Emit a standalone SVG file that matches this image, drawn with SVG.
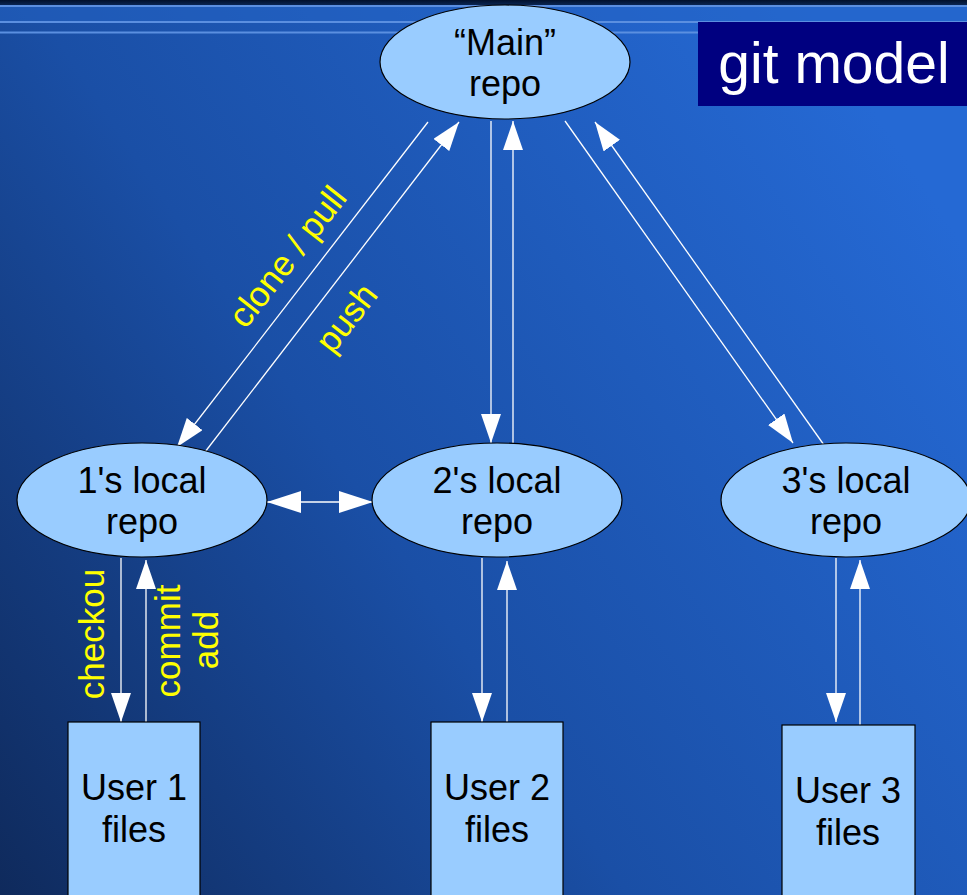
<svg xmlns="http://www.w3.org/2000/svg" width="967" height="895" viewBox="0 0 967 895">
<defs>
<linearGradient id="bg" x1="0" y1="895" x2="967" y2="250" gradientUnits="userSpaceOnUse">
<stop offset="0" stop-color="#0f2a5c"/>
<stop offset="0.45" stop-color="#1a4fa6"/>
<stop offset="1" stop-color="#2569d4"/>
</linearGradient>
<linearGradient id="topbar" x1="0" y1="0" x2="0" y2="1">
<stop offset="0" stop-color="#01102c"/>
<stop offset="1" stop-color="#0a2552"/>
</linearGradient>
<marker id="ah" viewBox="0 0 29 20" refX="29" refY="10" markerWidth="29" markerHeight="20" markerUnits="userSpaceOnUse" orient="auto-start-reverse">
<path d="M0,0 L29,10 L0,20 z" fill="#ffffff"/>
</marker>
<marker id="ahb" viewBox="0 0 34 22" refX="34" refY="11" markerWidth="34" markerHeight="22" markerUnits="userSpaceOnUse" orient="auto-start-reverse">
<path d="M0,0 L34,11 L0,22 z" fill="#ffffff"/>
</marker>
</defs>
<style>
.node{fill:#99ccff;stroke:#000000;stroke-width:1.2}
.nt{font-family:"Liberation Sans",Arial,sans-serif;font-size:36px;fill:#000000;text-anchor:middle}
.lab{font-family:"Liberation Sans",Arial,sans-serif;font-size:35px;fill:#ffff00;text-anchor:middle}
.c{stroke:#ffffff;stroke-width:1.3;fill:none}
.hl{stroke:#5b8fe0;stroke-width:2.2}
</style>
<rect x="0" y="0" width="967" height="895" fill="url(#bg)"/>
<rect x="0" y="0" width="967" height="5" fill="url(#topbar)"/>
<rect x="0" y="7" width="967" height="14" fill="#2463c6" opacity="0.5"/>
<line class="hl" x1="0" y1="6" x2="967" y2="6"/>
<line class="hl" x1="0" y1="22" x2="967" y2="22"/>
<line class="hl" x1="0" y1="32.5" x2="967" y2="32.5"/>

<g id="title">
<rect x="698" y="22" width="269" height="84" fill="#000080"/>
<text x="834" y="83" font-family="Liberation Sans,Arial,sans-serif" font-size="57" fill="#ffffff" text-anchor="middle">git model</text>
</g>

<g id="connectors">
<line class="c" x1="428" y1="122" x2="177" y2="447" marker-end="url(#ah)"/>
<line class="c" x1="205" y1="452" x2="459" y2="122" marker-end="url(#ah)"/>
<line class="c" x1="491" y1="121" x2="491" y2="443" marker-end="url(#ah)"/>
<line class="c" x1="513" y1="447" x2="513" y2="121" marker-end="url(#ah)"/>
<line class="c" x1="565" y1="121" x2="793" y2="443" marker-end="url(#ah)"/>
<line class="c" x1="824" y1="445" x2="595" y2="122" marker-end="url(#ah)"/>
<line class="c" x1="267" y1="502" x2="373" y2="502" marker-start="url(#ahb)" marker-end="url(#ahb)"/>
<line class="c" x1="121" y1="558" x2="121" y2="722" marker-end="url(#ah)"/>
<line class="c" x1="146" y1="722" x2="146" y2="560" marker-end="url(#ah)"/>
<line class="c" x1="482" y1="558" x2="482" y2="722" marker-end="url(#ah)"/>
<line class="c" x1="507" y1="722" x2="507" y2="561" marker-end="url(#ah)"/>
<line class="c" x1="836" y1="558" x2="836" y2="722" marker-end="url(#ah)"/>
<line class="c" x1="860" y1="725" x2="860" y2="560" marker-end="url(#ah)"/>
<text class="lab" transform="translate(289,258) rotate(-52)" y="10">clone / pull</text>
<text class="lab" transform="translate(348,319) rotate(-52)" y="10">push</text>
<text class="lab" transform="translate(104,634) rotate(-90)">checkou</text>
<text class="lab" transform="translate(180,641) rotate(-90)">commit</text>
<text class="lab" transform="translate(218,640) rotate(-90)">add</text>
</g>

<g id="main-repo">
<ellipse class="node" cx="505" cy="62" rx="125" ry="57"/>
<text class="nt" x="505" y="55">“Main”</text>
<text class="nt" x="505" y="96">repo</text>
</g>
<g id="local1">
<ellipse class="node" cx="142" cy="500" rx="125" ry="57"/>
<text class="nt" x="142" y="493">1's local</text>
<text class="nt" x="142" y="534">repo</text>
</g>
<g id="local2">
<ellipse class="node" cx="497" cy="500" rx="125" ry="57"/>
<text class="nt" x="497" y="493">2's local</text>
<text class="nt" x="497" y="534">repo</text>
</g>
<g id="local3">
<ellipse class="node" cx="846" cy="500" rx="125" ry="57"/>
<text class="nt" x="846" y="493">3's local</text>
<text class="nt" x="846" y="534">repo</text>
</g>
<g id="user1">
<rect class="node" x="68" y="722" width="132" height="180"/>
<text class="nt" x="134" y="800">User 1</text>
<text class="nt" x="134" y="842">files</text>
</g>
<g id="user2">
<rect class="node" x="431" y="722" width="132" height="180"/>
<text class="nt" x="497" y="800">User 2</text>
<text class="nt" x="497" y="842">files</text>
</g>
<g id="user3">
<rect class="node" x="782" y="725" width="133" height="180"/>
<text class="nt" x="848" y="803">User 3</text>
<text class="nt" x="848" y="845">files</text>
</g>
</svg>
